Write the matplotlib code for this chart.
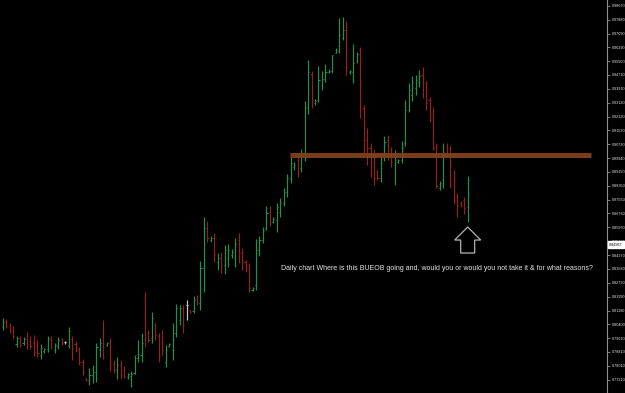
import numpy as np
import matplotlib.pyplot as plt
from matplotlib.patches import Polygon
from matplotlib.transforms import IdentityTransform

# daily bars (OHLC)
opens = [0.8024, 0.8059, 0.8030, 0.8013, 0.7927, 0.7961, 0.7933, 0.7956, 0.7944, 0.7933,
         0.7921, 0.7864, 0.7887, 0.7898, 0.7956, 0.7892, 0.7915, 0.7956, 0.7938, 0.7921,
         0.7956, 0.7927, 0.7898, 0.7824, 0.7732, 0.7720, 0.7749, 0.7766, 0.7892, 0.7933,
         0.7921, 0.7938, 0.7812, 0.7778, 0.7806, 0.7778, 0.7737, 0.7743, 0.7760, 0.7846,
         0.7864, 0.8179, 0.7990, 0.7961, 0.8036, 0.7973, 0.7933, 0.7824, 0.7915, 0.7892,
         0.7990, 0.8065, 0.8133, 0.8151, 0.8122, 0.8116, 0.8191, 0.8162, 0.8363, 0.8593,
         0.8524, 0.8535, 0.8398, 0.8420, 0.8380, 0.8420, 0.8438, 0.8420, 0.8524, 0.8455,
         0.8398, 0.8375, 0.8237, 0.8266, 0.8466, 0.8524, 0.8593, 0.8685, 0.8627, 0.8639,
         0.8685, 0.8736, 0.8799, 0.8880, 0.8943, 0.8983, 0.8937, 0.9023, 0.9287, 0.9477,
         0.9310, 0.9327, 0.9413, 0.9448, 0.9488, 0.9494, 0.9597, 0.9609, 0.9683, 0.9729,
         0.9488, 0.9488, 0.9551, 0.9591, 0.9281, 0.9098, 0.9052, 0.9012, 0.8920, 0.8880,
         0.9012, 0.9098, 0.9012, 0.8954, 0.8972, 0.8983, 0.9081, 0.9270, 0.9356, 0.9396,
         0.9431, 0.9471, 0.9431, 0.9327, 0.9241, 0.9063, 0.8822, 0.8868, 0.9058, 0.9040,
         0.8868, 0.8765, 0.8736, 0.8753, 0.8713]
highs = [0.8076, 0.8070, 0.8047, 0.8030, 0.7973, 0.7973, 0.7967, 0.7996, 0.7973, 0.7979,
         0.7950, 0.7927, 0.7904, 0.7973, 0.7973, 0.7933, 0.7967, 0.7961, 0.7944, 0.8024,
         0.7973, 0.7944, 0.7910, 0.7841, 0.7732, 0.7789, 0.7806, 0.7933, 0.7961, 0.8065,
         0.7938, 0.7961, 0.7835, 0.7852, 0.7835, 0.7801, 0.7760, 0.7772, 0.7864, 0.7950,
         0.7990, 0.8225, 0.8007, 0.8110, 0.8047, 0.7990, 0.8007, 0.7921, 0.7933, 0.8047,
         0.8156, 0.8151, 0.8151, 0.8179, 0.8122, 0.8202, 0.8208, 0.8403, 0.8656, 0.8633,
         0.8547, 0.8564, 0.8449, 0.8455, 0.8495, 0.8501, 0.8472, 0.8535, 0.8564, 0.8478,
         0.8409, 0.8392, 0.8254, 0.8530, 0.8547, 0.8598, 0.8719, 0.8719, 0.8656, 0.8736,
         0.8765, 0.8822, 0.8903, 0.9000, 0.8972, 0.9017, 0.9046, 0.9322, 0.9557, 0.9494,
         0.9333, 0.9523, 0.9494, 0.9534, 0.9505, 0.9586, 0.9626, 0.9798, 0.9804, 0.9781,
         0.9500, 0.9649, 0.9603, 0.9632, 0.9299, 0.9167, 0.9081, 0.9040, 0.8926, 0.9023,
         0.9121, 0.9127, 0.9058, 0.9040, 0.8989, 0.9092, 0.9327, 0.9425, 0.9465, 0.9471,
         0.9500, 0.9517, 0.9436, 0.9345, 0.9287, 0.9081, 0.8862, 0.9081, 0.9081, 0.9069,
         0.8926, 0.8794, 0.8748, 0.8771, 0.8891]
lows = [0.8007, 0.8019, 0.7990, 0.7956, 0.7910, 0.7910, 0.7921, 0.7898, 0.7898, 0.7858,
        0.7852, 0.7841, 0.7875, 0.7881, 0.7898, 0.7875, 0.7898, 0.7921, 0.7927, 0.7904,
        0.7835, 0.7881, 0.7806, 0.7749, 0.7714, 0.7692, 0.7703, 0.7709, 0.7852, 0.7841,
        0.7915, 0.7772, 0.7760, 0.7726, 0.7726, 0.7732, 0.7726, 0.7680, 0.7755, 0.7824,
        0.7824, 0.7910, 0.7938, 0.7933, 0.7950, 0.7824, 0.7864, 0.7795, 0.7910, 0.7835,
        0.7967, 0.8036, 0.7990, 0.8065, 0.8105, 0.8105, 0.8151, 0.8122, 0.8225, 0.8512,
        0.8512, 0.8398, 0.8352, 0.8334, 0.8329, 0.8369, 0.8420, 0.8369, 0.8392, 0.8352,
        0.8340, 0.8225, 0.8231, 0.8237, 0.8432, 0.8507, 0.8581, 0.8604, 0.8621, 0.8570,
        0.8656, 0.8719, 0.8771, 0.8851, 0.8926, 0.8885, 0.8914, 0.8977, 0.9247, 0.9281,
        0.9299, 0.9316, 0.9385, 0.9431, 0.9482, 0.9482, 0.9597, 0.9597, 0.9672, 0.9471,
        0.9477, 0.9425, 0.9540, 0.9224, 0.9023, 0.8954, 0.8885, 0.8840, 0.8868, 0.8857,
        0.8977, 0.8983, 0.8943, 0.8840, 0.8966, 0.8966, 0.9063, 0.9259, 0.9322, 0.9356,
        0.9402, 0.9339, 0.9270, 0.9201, 0.9040, 0.8822, 0.8811, 0.8822, 0.9000, 0.8822,
        0.8730, 0.8656, 0.8713, 0.8673, 0.8627]
closes = [0.8053, 0.8030, 0.8007, 0.7973, 0.7961, 0.7921, 0.7956, 0.7927, 0.7915, 0.7881,
          0.7875, 0.7904, 0.7898, 0.7961, 0.7910, 0.7921, 0.7950, 0.7933, 0.7938, 0.8001,
          0.7904, 0.7904, 0.7824, 0.7766, 0.7720, 0.7749, 0.7766, 0.7910, 0.7933, 0.7852,
          0.7933, 0.7801, 0.7783, 0.7806, 0.7749, 0.7743, 0.7755, 0.7755, 0.7846, 0.7869,
          0.7933, 0.7967, 0.7950, 0.8076, 0.7979, 0.7864, 0.7892, 0.7892, 0.7927, 0.7990,
          0.8133, 0.8133, 0.8036, 0.8151, 0.8110, 0.8179, 0.8168, 0.8363, 0.8593, 0.8535,
          0.8535, 0.8438, 0.8420, 0.8380, 0.8466, 0.8466, 0.8455, 0.8501, 0.8449, 0.8398,
          0.8375, 0.8248, 0.8248, 0.8466, 0.8524, 0.8581, 0.8679, 0.8627, 0.8644, 0.8713,
          0.8742, 0.8799, 0.8880, 0.8966, 0.8954, 0.8926, 0.9023, 0.9281, 0.9488, 0.9327,
          0.9322, 0.9442, 0.9448, 0.9488, 0.9494, 0.9586, 0.9614, 0.9700, 0.9729, 0.9568,
          0.9494, 0.9540, 0.9591, 0.9327, 0.9098, 0.9052, 0.8972, 0.8880, 0.8880, 0.8966,
          0.9086, 0.9012, 0.8972, 0.9012, 0.8983, 0.9052, 0.9270, 0.9385, 0.9431, 0.9442,
          0.9465, 0.9454, 0.9310, 0.9236, 0.9052, 0.8834, 0.8851, 0.9012, 0.9023, 0.8840,
          0.8753, 0.8725, 0.8725, 0.8707, 0.8868]

tick_values = [0.98670, 0.97880, 0.97090, 0.96290, 0.95500, 0.94710, 0.93910, 0.93120,
               0.92320, 0.91530, 0.90730, 0.89940, 0.89150, 0.88350, 0.87550, 0.86760,
               0.85970, 0.85170, 0.84370, 0.83580, 0.82790, 0.81990, 0.81190, 0.80400,
               0.79610, 0.78810, 0.78010, 0.77210]
tick_labels = ["%.5f" % v for v in tick_values]

resistance = 0.9009
current_price = 0.84967
note = ("Daily chart Where is this BUEOB going and, would you or would you not "
        "take it & for what reasons?")

W, H = 625, 393
fig = plt.figure(figsize=(W / 100, H / 100), dpi=100, facecolor="black")
ax = fig.add_axes([0, 0, 607 / W, 1])
ax.set_facecolor("black")

o = np.array(opens)
c = np.array(closes)
x = np.arange(len(o))
cols = np.where(c > o, "#1f9150", np.where(c < o, "#96201c", "#c8c8c8"))

# bars: high-low line, open tick left, close tick right
ax.vlines(x, lows, highs, colors=cols, lw=0.85, zorder=2)
ax.hlines(o, x - 0.32, x, colors=cols, lw=0.8, zorder=2)
ax.hlines(c, x, x + 0.32, colors=cols, lw=0.8, zorder=2)

# resistance zone
ax.hlines(resistance, 82.8, 169.5, colors="#83431f", lw=3.6, alpha=0.92, zorder=3)

ax.set_xlim(-0.78, 174.15)
ax.set_ylim(0.76456, 0.99014)

# price axis on the right
ax.yaxis.tick_right()
ax.set_yticks(tick_values)
ax.set_yticklabels(tick_labels, family=["Liberation Sans", "DejaVu Sans"])
ax.tick_params(axis="y", length=2.2, width=0.6, color="#909090",
               labelcolor="#e4e4e4", labelsize=2.7, pad=1.0)
ax.set_xticks([])
for s in ["top", "left", "bottom"]:
    ax.spines[s].set_visible(False)
ax.spines["right"].set_color("#909090")
ax.spines["right"].set_linewidth(0.8)

# current price box
ax.text(1.003, current_price, "%.5f" % current_price, transform=ax.get_yaxis_transform(),
        ha="left", va="center", fontsize=2.7, color="black", clip_on=False,
        family=["Liberation Sans", "DejaVu Sans"],
        bbox=dict(boxstyle="square,pad=0.35", fc="white", ec="white"))

ax.text(281 / 607, 1 - 268 / H, note, transform=ax.transAxes, ha="left", va="center",
        fontsize=5.05, color="#e6e6e6", family=["Liberation Sans", "DejaVu Sans"])

# hollow arrow under the last bar
tx, ty = ax.transData.transform((x[-1], lows[-1]))
ty -= 5
arrow = [(tx, ty), (tx + 13, ty - 13), (tx + 7, ty - 13), (tx + 7, ty - 26),
         (tx - 7, ty - 26), (tx - 7, ty - 13), (tx - 13, ty - 13)]
fig.patches.append(Polygon(arrow, closed=True, fill=False, ec="#b4b4b4", lw=0.9,
                           transform=IdentityTransform(), figure=fig))

fig.savefig("out.png", dpi=100, facecolor="black")
